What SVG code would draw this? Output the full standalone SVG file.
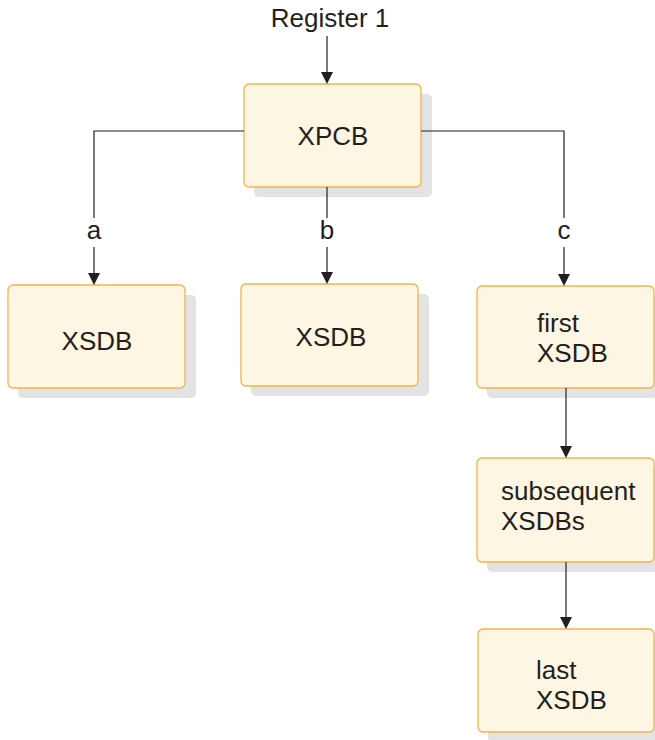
<svg xmlns="http://www.w3.org/2000/svg" width="655" height="740" viewBox="0 0 655 740">
<defs>
<style>
.box{fill:#fdf6e3;stroke:#f2b447;stroke-width:1.3}
.sh{fill:#e3e3e5}
.t{font-family:"Liberation Sans",Arial,sans-serif;font-size:26px;fill:#231f20}
.ln{fill:none;stroke:#231f20;stroke-width:1.2}
.ah{fill:#231f20}
</style>
</defs>
<rect width="655" height="740" fill="#ffffff"/>
<g id="xpcb">
<rect class="sh" x="254" y="94" width="178" height="103" rx="5"/>
<rect class="box" x="244" y="84" width="177" height="103" rx="5"/>
<text class="t" x="333" y="145" text-anchor="middle">XPCB</text>
</g>
<g id="xsdb-a">
<rect class="sh" x="18" y="295" width="178" height="103" rx="5"/>
<rect class="box" x="8" y="285" width="177" height="103" rx="5"/>
<text class="t" x="97" y="350" text-anchor="middle">XSDB</text>
</g>
<g id="xsdb-b">
<rect class="sh" x="251" y="294" width="178" height="102" rx="5"/>
<rect class="box" x="241" y="284" width="177" height="102" rx="5"/>
<text class="t" x="331" y="346" text-anchor="middle">XSDB</text>
</g>
<g id="first-xsdb">
<rect class="sh" x="487" y="296" width="178" height="102" rx="5"/>
<rect class="box" x="477" y="286" width="177" height="102" rx="5"/>
<text class="t" x="537" y="332">first</text>
<text class="t" x="537" y="362">XSDB</text>
</g>
<g id="subsequent-xsdbs">
<rect class="sh" x="487" y="468" width="178" height="104" rx="5"/>
<rect class="box" x="477" y="458" width="177" height="104" rx="5"/>
<text class="t" x="501" y="500">subsequent</text>
<text class="t" x="501" y="530">XSDBs</text>
</g>
<g id="last-xsdb">
<rect class="sh" x="488" y="639" width="178" height="103" rx="5"/>
<rect class="box" x="478" y="629" width="176" height="103" rx="5"/>
<text class="t" x="536" y="679">last</text>
<text class="t" x="536" y="709">XSDB</text>
</g>
<g id="connectors">
<text class="t" x="330" y="27" text-anchor="middle">Register 1</text>
<path class="ln" d="M327,36 V72"/>
<path class="ah" d="M321,72 L333,72 L327,84 Z"/>
<path class="ln" d="M244,131 H94 V218"/>
<path class="ln" d="M94,247 V273"/>
<path class="ah" d="M88,273 L100,273 L94,285 Z"/>
<text class="t" x="94" y="239" text-anchor="middle">a</text>
<path class="ln" d="M327,187 V218"/>
<path class="ln" d="M327,247 V272"/>
<path class="ah" d="M321,272 L333,272 L327,284 Z"/>
<text class="t" x="327" y="239" text-anchor="middle">b</text>
<path class="ln" d="M421,131 H564 V218"/>
<path class="ln" d="M564,247 V274"/>
<path class="ah" d="M558,274 L570,274 L564,286 Z"/>
<text class="t" x="564" y="239" text-anchor="middle">c</text>
<path class="ln" d="M566,388 V446"/>
<path class="ah" d="M560,446 L572,446 L566,458 Z"/>
<path class="ln" d="M566,562 V617"/>
<path class="ah" d="M560,617 L572,617 L566,629 Z"/>
</g>
</svg>
